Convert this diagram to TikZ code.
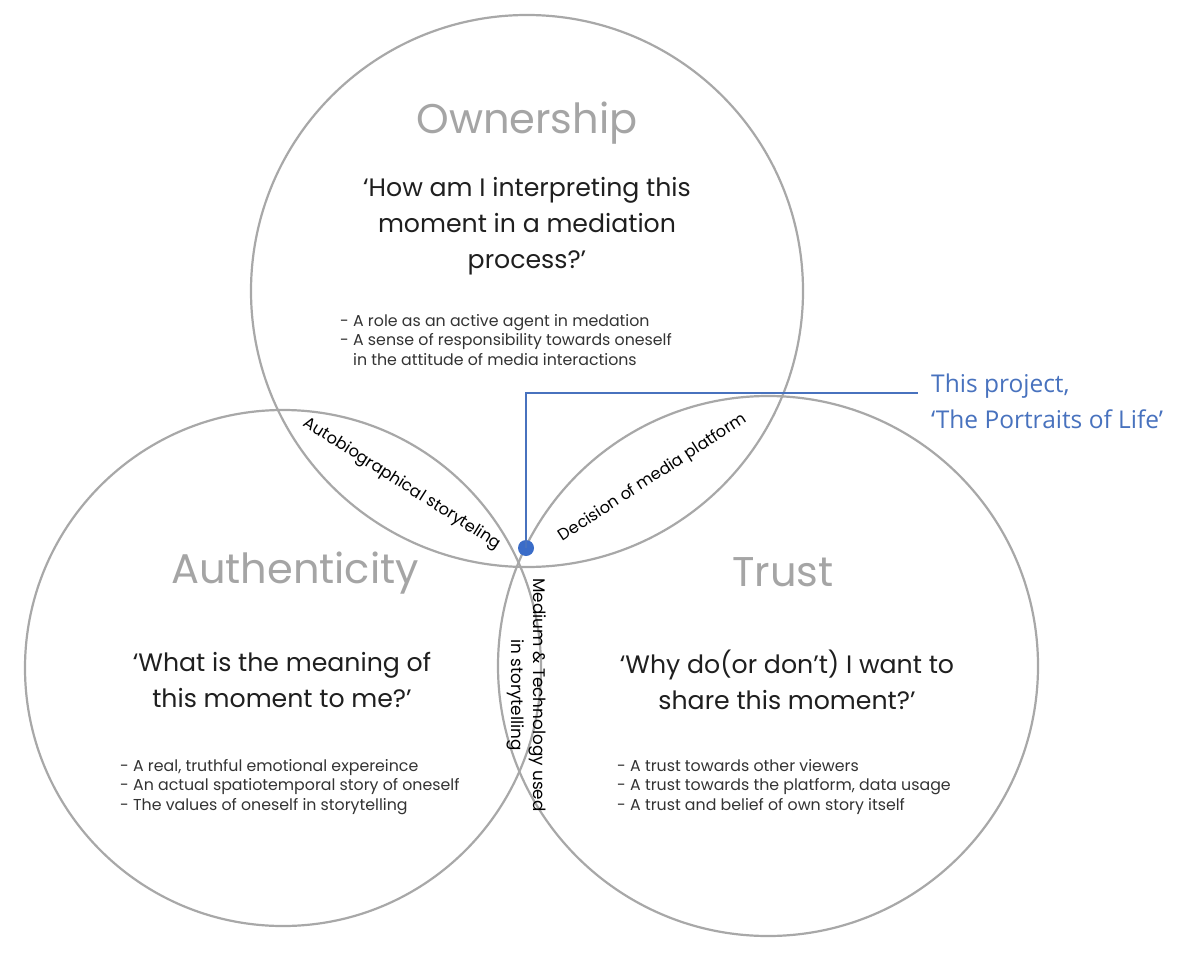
\documentclass[tikz,border=0pt]{standalone}
\usepackage{fontspec}
\setmainfont{Poppins}
\newfontfamily\calloutfont{Open Sans}
\begin{document}
\begin{tikzpicture}[x=1pt,y=-1pt,
  ring/.style={draw=ringgray,line width=2.2pt},
  title/.style={text=titlegray,font=\fontsize{41.5}{48}\selectfont},
  question/.style={text=black!88,align=center,font=\fontsize{25.2}{36}\selectfont},
  points/.style={text=black!80,align=left,font=\fontsize{15.8}{19.8}\selectfont,inner sep=0pt},
  lens/.style={text=black,font=\fontsize{16.8}{22}\selectfont,align=center,inner sep=0pt},
  slimlens/.style={lens,font=\fontsize{16.2}{22}\selectfont},
  callout/.style={text=projblue,align=left,font=\calloutfont\fontsize{24.5}{36}\selectfont,inner sep=0pt}]
\definecolor{ringgray}{RGB}{168,168,168}
\definecolor{titlegray}{RGB}{165,165,165}
\definecolor{projblue}{RGB}{72,114,190}
\definecolor{dotblue}{RGB}{58,108,200}
\useasboundingbox[fill=white] (0,0) rectangle (1201,960);

% the three sets
\draw[ring] (527,291) circle[radius=276];
\draw[ring] (283,668) circle[radius=258];
\draw[ring] (768,666) circle[radius=270];

% Ownership
\node[title] (own) at (527,123) {Ownership};
\node[question] (ownq) at (527,226) {‘How am I interpreting this\\moment in a mediation\\process?’};
\node[points,anchor=west] (ownp) at (340,340) {- A role as an active agent in medation\\- A sense of responsibility towards oneself\\\phantom{- }in the attitude of media interactions};

% Authenticity
\node[title] (auth) at (295,573) {Authenticity};
\node[question] (authq) at (282,680) {‘What is the meaning of\\this moment to me?’};
\node[points,anchor=west] (authp) at (120,787) {- A real, truthful emotional expereince\\- An actual spatiotemporal story of oneself\\- The values of oneself in storytelling};

% Trust
\node[title] (trust) at (783,572) {Trust};
\node[question] (trustq) at (787,680) {‘Why do(or don’t) I want to\\share this moment?’};
\node[points,anchor=west] (trustp) at (617,787) {- A trust towards other viewers\\- A trust towards the platform, data usage\\- A trust and belief of own story itself};

% overlaps
\node[slimlens,rotate=-32.5] (autobio) at (402,484) {Autobiographical storyteling};
\node[slimlens,rotate=33] (decision) at (653,478) {Decision of media platform};
\node[lens,rotate=-90] (medium) at (527,695) {Medium \& Technology used\\in storytelling};

% project marker and callout
\node[circle,fill=dotblue,minimum size=16pt,inner sep=0pt] (dot) at (526,548) {};
\coordinate (lineend) at (918,393);
\draw[projblue,line width=1.2pt] (dot.center) |- (lineend);
\node[callout,anchor=west] (proj) at (931,401) {This project,\\‘The Portraits of Life’};
\end{tikzpicture}
\end{document}
